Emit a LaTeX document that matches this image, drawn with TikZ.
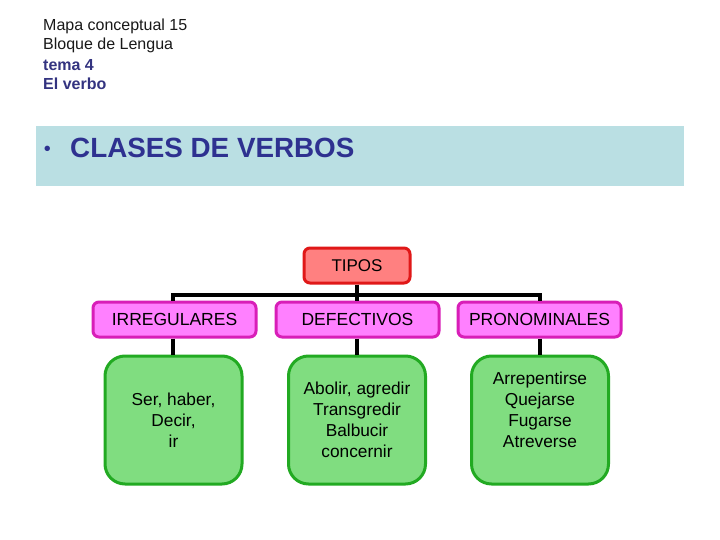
\documentclass[tikz,border=0pt]{standalone}
\usepackage{fontspec}
\setmainfont{Liberation Sans}
\definecolor{bandblue}{HTML}{BADFE3}
\definecolor{titleblue}{HTML}{2E3190}
\definecolor{headblue}{HTML}{333380}
\definecolor{tipofill}{HTML}{FF8080}
\definecolor{tipodraw}{HTML}{E01818}
\definecolor{pinkfill}{HTML}{FF80FF}
\definecolor{pinkdraw}{HTML}{D81EB8}
\definecolor{greenfill}{HTML}{80DD80}
\definecolor{greendraw}{HTML}{22AA22}
\begin{document}
\begin{tikzpicture}[x=1pt,y=-1pt,
  headtext/.style={anchor=west,inner sep=0pt,font=\fontsize{16}{18}\selectfont},
  tipobox/.style={draw=tipodraw,fill=tipofill,line width=3pt,rounded corners=6pt,
    minimum width=106pt,minimum height=35pt,inner sep=0pt,font=\fontsize{17}{20}\selectfont},
  midbox/.style={draw=pinkdraw,fill=pinkfill,line width=3pt,rounded corners=6pt,
    minimum width=163pt,minimum height=35pt,inner sep=0pt,font=\fontsize{17.5}{20}\selectfont},
  greenbox/.style={draw=greendraw,fill=greenfill,line width=3pt,rounded corners=20pt,
    minimum width=137pt,minimum height=128pt,inner sep=0pt},
  gtext/.style={align=center,inner sep=0pt,font=\fontsize{17.3}{21}\selectfont},
  conn/.style={line width=3.5pt,black}
]
\useasboundingbox (0,0) rectangle (720,540);
\fill[white] (0,0) rectangle (720,540);
% header
\node[headtext,text=black!90] (h1) at (43,26) {Mapa conceptual 15};
\node[headtext,text=black!90] (h2) at (43,45.5) {Bloque de Lengua};
\node[headtext,text=headblue,font=\fontsize{16}{18}\selectfont\bfseries] (h3) at (43,65) {tema 4};
\node[headtext,text=headblue,font=\fontsize{16}{18}\selectfont\bfseries] (h4) at (43,84) {El verbo};
% band
\fill[bandblue] (36,126) rectangle (684,186);
\node[anchor=west,inner sep=0pt,text=titleblue,font=\fontsize{27.8}{30}\selectfont\bfseries] (title) at (70,148) {CLASES DE VERBOS};
\node[anchor=base,inner sep=0pt,text=titleblue,font=\fontsize{20}{24}\selectfont] (bullet) at (47.5,156) {•};
% boxes
\node[tipobox] (tipos) at (357,265.5) {TIPOS};
\node[midbox] (irr) at (174.5,319.5) {IRREGULARES};
\node[midbox] (def) at (357.5,319.5) {DEFECTIVOS};
\node[midbox] (pro) at (539.5,319.5) {PRONOMINALES};
\node[greenbox] (g1) at (173.5,420) {};
\node[greenbox] (g2) at (357,420) {};
\node[greenbox] (g3) at (540,420) {};
\node[gtext] (t1) at (g1.center) {Ser, haber,\\Decir,\\ir};
\node[gtext] (t2) at (g2.center) {Abolir, agredir\\Transgredir\\Balbucir\\concernir};
\node[gtext] (t3) at ([yshift=10.5pt]g3.center) {Arrepentirse\\Quejarse\\Fugarse\\Atreverse};
% connectors
\coordinate (j) at (357,295);
\coordinate (jl) at (173,295);
\coordinate (jr) at (540,295);
\draw[conn] (tipos.south) -- (j);
\draw[conn,line cap=rect] (jl) -- (jr);
\draw[conn] (jl) -- (jl |- irr.north);
\draw[conn] (j) -- (j |- def.north);
\draw[conn] (jr) -- (jr |- pro.north);
\draw[conn] (irr.south -| jl) -- (jl |- g1.north);
\draw[conn] (def.south -| j) -- (j |- g2.north);
\draw[conn] (pro.south -| jr) -- (jr |- g3.north);
\end{tikzpicture}
\end{document}
